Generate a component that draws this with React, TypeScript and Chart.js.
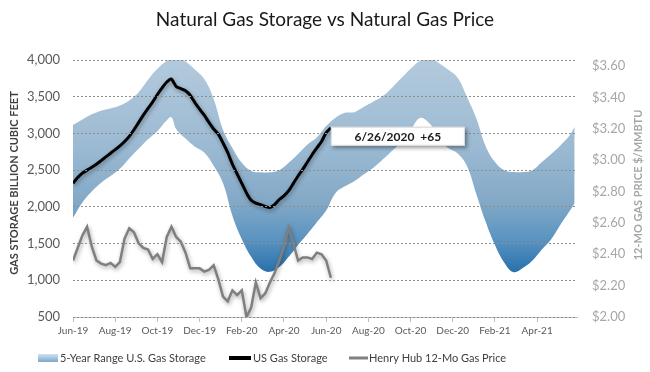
import React, { useEffect, useRef } from 'react';
import { Chart, registerables } from 'chart.js';

Chart.register(...registerables);

// ---- Data ----
const tickLabels = ['Jun-19', 'Aug-19', 'Oct-19', 'Dec-19', 'Feb-20', 'Apr-20', 'Jun-20', 'Aug-20', 'Oct-20', 'Dec-20', 'Feb-21', 'Apr-21'];
const tickWeeks = [0, 9, 18, 27, 36, 45, 54, 63, 72, 81, 90, 99];

// US gas storage (Bcf), weekly from early Jun-2019 to 6/26/2020
const storageBcf = [
  2320, 2400, 2460, 2500, 2540, 2580, 2630, 2680, 2730, 2780,
  2830, 2890, 2960, 3050, 3150, 3250, 3340, 3430, 3530, 3620,
  3700, 3740, 3640, 3610, 3580, 3520, 3420, 3330, 3250, 3150,
  3060, 2990, 2870, 2740, 2580, 2450, 2320, 2190, 2090, 2050,
  2030, 2005, 1990, 2030, 2100, 2150, 2220, 2320, 2420, 2510,
  2610, 2710, 2800, 2890, 3010, 3077,
];

// Henry Hub 12-month strip price ($/MMBtu), weekly
const henryHubPrice = [
  2.36, 2.44, 2.52, 2.575, 2.45, 2.36, 2.34, 2.33, 2.345, 2.32,
  2.35, 2.50, 2.565, 2.54, 2.47, 2.44, 2.43, 2.37, 2.40, 2.35,
  2.51, 2.575, 2.51, 2.48, 2.41, 2.31, 2.31, 2.31, 2.29, 2.30,
  2.33, 2.24, 2.13, 2.10, 2.17, 2.14, 2.17, 2.00, 2.06, 2.22,
  2.12, 2.15, 2.22, 2.28, 2.36, 2.45, 2.57, 2.47, 2.36, 2.38,
  2.38, 2.37, 2.41, 2.40, 2.36, 2.25,
];

// 5-year range band (Bcf)
const bandWeeks = [
  0, 2, 4, 6, 8, 10, 12, 14, 16, 18, 20, 21, 22, 24, 26, 28, 30, 32, 34, 36,
  38, 40, 42, 44, 46, 48, 50, 52, 54, 56, 58, 60, 62, 64, 66, 68, 70, 72, 74, 76,
  78, 80, 82, 84, 86, 88, 90, 92, 94, 96, 98, 100, 102, 104, 106, 107,
];
const bandUpper = [
  3115, 3190, 3260, 3310, 3340, 3380, 3450, 3560, 3730, 3880, 3990, 4030, 4050, 3980, 3870, 3740, 3470, 3050, 2800, 2600,
  2490, 2470, 2470, 2500, 2600, 2720, 2850, 2945, 3100, 3215, 3280, 3290, 3360, 3430, 3505, 3620, 3750, 3880, 3990, 4040,
  3960, 3870, 3760, 3500, 3210, 2830, 2610, 2500, 2475, 2475, 2500, 2610, 2720, 2840, 2980, 3090,
];
const bandLower = [
  1850, 2060, 2210, 2330, 2420, 2520, 2660, 2790, 2920, 3030, 3180, 3220, 3060, 2930, 2820, 2740, 2560, 2320, 1880, 1560,
  1320, 1160, 1115, 1180, 1320, 1480, 1630, 1790, 1950, 2190, 2280, 2350, 2440, 2530, 2640, 2760, 2880, 3040, 3210, 3140,
  2970, 2800, 2730, 2560, 2180, 1800, 1480, 1240, 1110, 1170, 1270, 1420, 1560, 1760, 1950, 2050,
];
const priceTicks = [2.0, 2.2, 2.4, 2.6, 2.8, 3.0, 3.2, 3.4, 3.6];

const FONT = 'Lato, "Open Sans", "DejaVu Sans", sans-serif';

export default function App() {
  const canvasRef = useRef<HTMLCanvasElement | null>(null);

  useEffect(() => {
    document.body.style.margin = '0';
    const canvas = canvasRef.current;
    if (!canvas) return;

    const decor = {
      id: 'decor',
      beforeDatasetDraw(chart: any, args: any) {
        if (args.index <= 1) {
          const c = chart.ctx;
          c.save();
          c.shadowColor = 'rgba(0,0,0,0.35)';
          c.shadowBlur = 4;
          c.shadowOffsetX = 1;
          c.shadowOffsetY = 2;
        }
      },
      afterDatasetDraw(chart: any, args: any) {
        if (args.index <= 1) chart.ctx.restore();
      },
      afterDraw(chart: any) {
        const c = chart.ctx;
        // Title
        c.save();
        c.font = `19px ${FONT}`;
        c.fillStyle = '#1a1a1a';
        c.textAlign = 'center';
        c.textBaseline = 'middle';
        c.fillText('Natural Gas Storage vs Natural Gas Price', 325, 20);
        c.restore();

        // Axis titles
        c.save();
        c.translate(14, 183);
        c.rotate(-Math.PI / 2);
        c.font = `bold 11px ${FONT}`;
        c.fillStyle = '#3f3f3f';
        c.textAlign = 'center';
        c.textBaseline = 'middle';
        c.fillText('GAS STORAGE BILLION CUBIC FEET', 0, 0);
        c.restore();

        c.save();
        c.translate(638, 185);
        c.rotate(-Math.PI / 2);
        c.font = `bold 11px ${FONT}`;
        c.fillStyle = '#a6a6a6';
        c.textAlign = 'center';
        c.textBaseline = 'middle';
        c.fillText('12-MO GAS PRICE $/MMBTU', 0, 0);
        c.restore();

        // Annotation box at last storage point
        const xs = chart.scales.x;
        const ys = chart.scales.y;
        const last = storageBcf.length - 1;
        const px = xs.getPixelForValue(last);
        const py = ys.getPixelForValue(storageBcf[last]);
        const bx = px;
        const by = py - 1;
        const bw = 134;
        const bh = 19;
        c.save();
        c.shadowColor = 'rgba(0,0,0,0.4)';
        c.shadowBlur = 4;
        c.shadowOffsetX = 2;
        c.shadowOffsetY = 2;
        c.fillStyle = '#ffffff';
        c.fillRect(bx, by, bw, bh);
        c.restore();
        c.save();
        c.strokeStyle = '#d9d9d9';
        c.lineWidth = 1;
        c.strokeRect(bx + 0.5, by + 0.5, bw - 1, bh - 1);
        c.font = `bold 12px ${FONT}`;
        c.fillStyle = '#1a1a1a';
        c.textAlign = 'center';
        c.textBaseline = 'middle';
        c.fillText('6/26/2020  +65', bx + bw / 2, by + bh / 2 + 1);
        c.restore();

        // Legend
        const ly = 358;
        c.save();
        const lg = c.createLinearGradient(0, ly - 4, 0, ly + 4);
        lg.addColorStop(0, '#d3e3f0');
        lg.addColorStop(1, '#79a7cf');
        c.fillStyle = lg;
        c.fillRect(38, ly - 4, 20, 8);
        c.strokeStyle = '#000000';
        c.lineWidth = 4;
        c.beginPath();
        c.moveTo(229, ly);
        c.lineTo(251, ly);
        c.stroke();
        c.strokeStyle = '#808080';
        c.lineWidth = 3;
        c.beginPath();
        c.moveTo(349, ly);
        c.lineTo(368, ly);
        c.stroke();
        c.font = `11px ${FONT}`;
        c.fillStyle = '#404040';
        c.textAlign = 'left';
        c.textBaseline = 'middle';
        c.fillText('5-Year Range U.S. Gas Storage', 60, ly);
        c.fillText('US Gas Storage', 253, ly);
        c.fillText('Henry Hub 12-Mo Gas Price', 369, ly);
        c.restore();
      },
    };

    const chart = new Chart(canvas, {
      type: 'line',
      data: {
        datasets: [
          {
            label: 'US Gas Storage',
            data: storageBcf.map((v, i) => ({ x: i, y: v })),
            yAxisID: 'y',
            borderColor: '#000000',
            borderWidth: 3,
            pointRadius: 0,
            tension: 0.2,
            fill: false,
          },
          {
            label: 'Henry Hub 12-Mo Gas Price',
            data: henryHubPrice.map((v, i) => ({ x: i, y: v })),
            yAxisID: 'y1',
            borderColor: '#7f7f7f',
            borderWidth: 2.5,
            pointRadius: 0,
            tension: 0,
            fill: false,
          },
          {
            label: 'lower',
            data: bandWeeks.map((w, i) => ({ x: w, y: bandLower[i] })),
            yAxisID: 'y',
            borderWidth: 0,
            borderColor: 'rgba(0,0,0,0)',
            pointRadius: 0,
            tension: 0.4,
            fill: false,
          },
          {
            label: '5-Year Range U.S. Gas Storage',
            data: bandWeeks.map((w, i) => ({ x: w, y: bandUpper[i] })),
            yAxisID: 'y',
            borderWidth: 0,
            borderColor: 'rgba(0,0,0,0)',
            pointRadius: 0,
            tension: 0.4,
            fill: '-1',
            backgroundColor: (ctx: any) => {
              const ch = ctx.chart;
              const a = ch.chartArea;
              if (!a) return 'rgba(130,170,205,0.8)';
              const g = ch.ctx.createLinearGradient(0, a.top, 0, a.bottom);
              g.addColorStop(0, '#b3cadd');
              g.addColorStop(0.35, '#9ab9d2');
              g.addColorStop(0.55, '#83a9c7');
              g.addColorStop(0.7, '#5a93c0');
              g.addColorStop(0.82, '#2a72ad');
              g.addColorStop(1, '#1b5f9c');
              return g;
            },
          },
        ],
      },
      options: {
        responsive: false,
        animation: false,
        devicePixelRatio: 1,
        layout: { padding: { top: 60, left: 0, right: 0, bottom: 30 } },
        plugins: {
          legend: { display: false },
          title: { display: false },
          tooltip: { enabled: false },
        },
        scales: {
          x: {
            type: 'linear',
            min: 0,
            max: 107.5,
            afterBuildTicks: (s: any) => {
              s.ticks = tickWeeks.map((v) => ({ value: v }));
            },
            afterFit: (s: any) => {
              s.height = 25;
            },
            ticks: {
              autoSkip: false,
              maxRotation: 0,
              padding: 3,
              color: '#595959',
              font: { family: FONT, size: 10 },
              callback: (_v: any, i: number) => tickLabels[i],
            },
            grid: { drawOnChartArea: false, drawTicks: true, tickLength: 5, color: '#bfbfbf' },
            border: { display: true, color: '#bfbfbf', width: 1 },
          },
          y: {
            position: 'left',
            min: 500,
            max: 4000,
            afterFit: (s: any) => {
              s.width = 73;
            },
            ticks: {
              stepSize: 500,
              padding: 13,
              color: '#595959',
              font: { family: FONT, size: 13 },
              callback: (v: any) => Number(v).toLocaleString('en-US'),
            },
            grid: { color: '#8f8f8f', lineWidth: 1, drawTicks: false, z: 1 },
            border: { display: false, dash: [2, 2] },
          },
          y1: {
            position: 'right',
            min: 2.0,
            max: 3.638,
            afterBuildTicks: (s: any) => {
              s.ticks = priceTicks.map((v) => ({ value: v }));
            },
            afterFit: (s: any) => {
              s.width = 73;
            },
            ticks: {
              padding: 15,
              color: '#a6a6a6',
              font: { family: FONT, size: 13 },
              callback: (v: any) => '$' + Number(v).toFixed(2),
            },
            grid: { display: false, drawTicks: false },
            border: { display: false },
          },
        },
      },
      plugins: [decor],
    } as any);

    return () => {
      chart.destroy();
    };
  }, []);

  return (
    <div style={{ position: 'absolute', left: 0, top: 0, width: 650, height: 372, background: '#ffffff' }}>
      <canvas ref={canvasRef} width={650} height={372} style={{ display: 'block' }} />
    </div>
  );
}
